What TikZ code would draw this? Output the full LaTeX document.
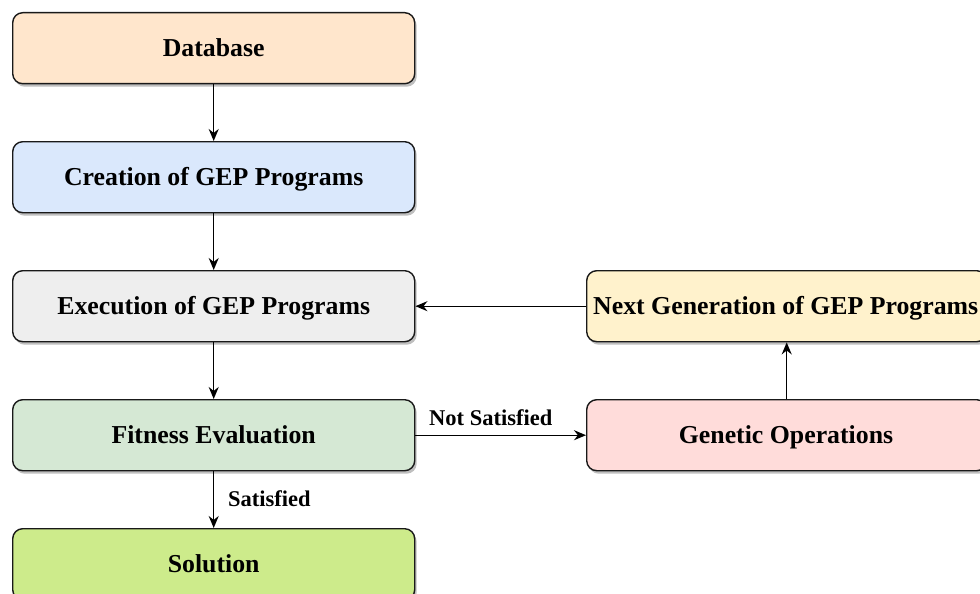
\documentclass[tikz,border=0pt]{standalone}
\usepackage{fontspec}
\setmainfont{Liberation Serif}
\usetikzlibrary{shadows,arrows.meta}
\definecolor{cDb}{HTML}{FFE6CC}
\definecolor{cCr}{HTML}{DAE8FC}
\definecolor{cEx}{HTML}{EEEEEE}
\definecolor{cFi}{HTML}{D5E8D4}
\definecolor{cSo}{HTML}{CDEB8B}
\definecolor{cNg}{HTML}{FFF2CC}
\definecolor{cGo}{HTML}{FFDCDA}
\tikzset{
  boxfont/.style={font=\fontsize{25.8}{28}\selectfont\bfseries},
  box/.style={draw=black!90, line width=1.4pt, rounded corners=10pt, minimum width=402pt, minimum height=71pt, inner sep=0pt, anchor=north west,
    text height=17pt, text depth=0pt,
    drop shadow={shadow xshift=2pt, shadow yshift=-3pt, opacity=0.25, fill=black}, boxfont},
  conn/.style={line width=1.4pt, -{Stealth[length=12pt,width=10pt]}},
  lbl/.style={font=\fontsize{22.5}{24}\selectfont\bfseries, inner sep=0pt}
}
\begin{document}
\begin{tikzpicture}[x=1pt,y=-1pt]
\useasboundingbox (0,0) rectangle (980,594);
\node[box, fill=cDb] (db) at (12,12) {Database};
\node[box, fill=cCr] (cr) at (12,141) {Creation of GEP Programs};
\node[box, fill=cEx] (ex) at (12,270) {Execution of GEP Programs};
\node[box, fill=cFi] (fi) at (12,399) {Fitness Evaluation};
\node[box, fill=cSo] (so) at (12,528) {Solution};
\node[box, fill=cNg, minimum width=400pt] (ng) at (586,270) {};
\node[boxfont, anchor=base west, inner sep=0pt] (ngt) at (593,314) {Next Generation of GEP Programs};
\node[box, fill=cGo, minimum width=400pt] (go) at (586,399) {};
\node[boxfont, anchor=base, inner sep=0pt] (got) at (786,443) {Genetic Operations};
\draw[conn] (db.south) -- (cr.north);
\draw[conn] (cr.south) -- (ex.north);
\draw[conn] (ex.south) -- (fi.north);
\draw[conn] (fi.south) -- (so.north);
\draw[conn] (ng.west) -- (ex.east);
\draw[conn] (fi.east) -- (go.west);
\draw[conn] (go.north) -- (ng.south);
\node[lbl, anchor=base west] (ns) at (429,425) {Not Satisfied};
\node[lbl, anchor=base west] (sa) at (228,506) {Satisfied};
\end{tikzpicture}
\end{document}
